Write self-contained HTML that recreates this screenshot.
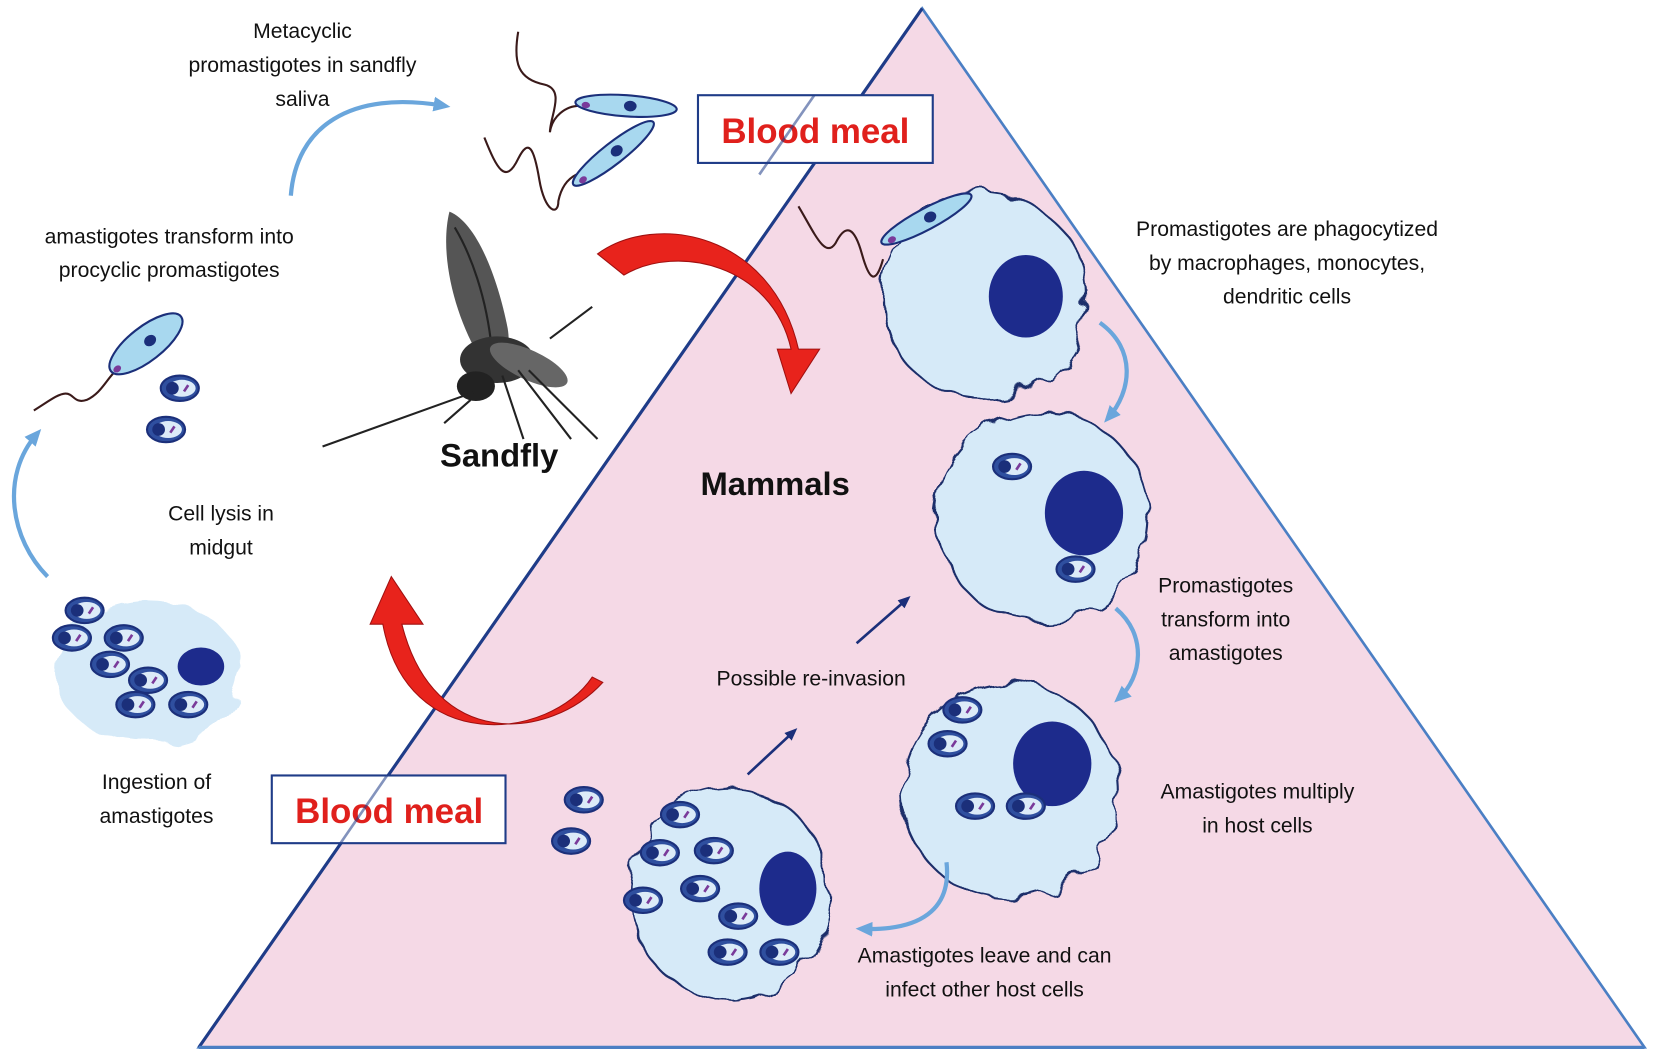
<!DOCTYPE html>
<html><head><meta charset="utf-8"><style>
html,body{margin:0;padding:0;background:#fff;}
svg{display:block}
text{font-family:"Liberation Sans",sans-serif;fill:#111;}
</style></head><body>
<svg width="1654" height="1059" viewBox="0 0 1564 1001" preserveAspectRatio="none" xmlns="http://www.w3.org/2000/svg">
<defs>
<filter id="wob" x="-20%" y="-20%" width="140%" height="140%">
<feTurbulence type="fractalNoise" baseFrequency="0.035" numOctaves="2" seed="3"/>
<feDisplacementMap in="SourceGraphic" scale="22"/>
</filter>
<g id="am">
<ellipse cx="0" cy="0" rx="18" ry="12" fill="#2f4f9f" stroke="#1b2f7a" stroke-width="2"/>
<ellipse cx="2" cy="0" rx="13" ry="8" fill="#dcebf8"/>
<ellipse cx="-7" cy="0" rx="6" ry="6" fill="#1b2f7a"/>
<line x1="4" y1="3" x2="8" y2="-3" stroke="#7a3a9a" stroke-width="2.5"/>
</g>
<g id="pro">
<ellipse cx="0" cy="0" rx="48" ry="10" fill="#a8d8ef" stroke="#1b2f7a" stroke-width="2"/>
<ellipse cx="4" cy="0" rx="6" ry="5" fill="#1b2f7a"/>
<ellipse cx="-38" cy="2" rx="4" ry="3" fill="#7a3a9a"/>
</g>
<marker id="ah" markerUnits="userSpaceOnUse" markerWidth="14" markerHeight="14" refX="8" refY="7" orient="auto"><path d="M0,2 L12,7 L0,12 z" fill="#1b2f7a"/></marker>
<marker id="lb" markerUnits="userSpaceOnUse" markerWidth="18" markerHeight="18" refX="10" refY="9" orient="auto"><path d="M0,2 L16,9 L0,16 z" fill="#6aa6dc"/></marker>
</defs>

<polygon points="872,8 188,990 1555,990" fill="#f5d9e6" stroke="#4b7fc4" stroke-width="2.5"/>
<line x1="872" y1="8" x2="188" y2="990" stroke="#1f3c88" stroke-width="3"/>
<line x1="188" y1="990" x2="1555" y2="990" stroke="#4b7fc4" stroke-width="3"/>

<rect x="660" y="90" width="222" height="64" fill="#fff" stroke="#1f3c88" stroke-width="2"/>
<text x="771" y="135" text-anchor="middle" font-size="33" font-weight="bold" style="fill:#e0201c">Blood meal</text>
<line x1="770" y1="90" x2="718" y2="165" stroke="#1f3c88" stroke-width="2.5" opacity=".55"/>
<rect x="257" y="733" width="221" height="64" fill="#fff" stroke="#1f3c88" stroke-width="2"/>
<text x="368" y="778" text-anchor="middle" font-size="33" font-weight="bold" style="fill:#e0201c">Blood meal</text>
<line x1="322" y1="797" x2="366" y2="733" stroke="#1f3c88" stroke-width="2.5" opacity=".55"/>

<g filter="url(#wob)">
<circle cx="930" cy="280" r="97" fill="#d6eaf8" stroke="#1b2f6a" stroke-width="2"/>
<circle cx="985" cy="488" r="100" fill="#d6eaf8" stroke="#1b2f6a" stroke-width="2"/>
<circle cx="955" cy="748" r="102" fill="#d6eaf8" stroke="#1b2f6a" stroke-width="2"/>
<ellipse cx="690" cy="845" rx="95" ry="100" fill="#d6eaf8" stroke="#1b2f6a" stroke-width="2"/>
<ellipse cx="140" cy="635" rx="88" ry="68" fill="#d6eaf8"/>
</g>
<ellipse cx="970" cy="280" rx="35" ry="39" fill="#1d2b8c"/>
<ellipse cx="1025" cy="485" rx="37" ry="40" fill="#1d2b8c"/>
<ellipse cx="995" cy="722" rx="37" ry="40" fill="#1d2b8c"/>
<ellipse cx="745" cy="840" rx="27" ry="35" fill="#1d2b8c"/>
<ellipse cx="190" cy="630" rx="22" ry="18" fill="#1d2b8c"/>

<use href="#am" x="957" y="441"/><use href="#am" x="1017" y="538"/>
<use href="#am" x="910" y="671"/><use href="#am" x="896" y="703"/><use href="#am" x="922" y="762"/><use href="#am" x="970" y="762"/>
<use href="#am" x="643" y="770"/><use href="#am" x="624" y="806"/><use href="#am" x="675" y="804"/><use href="#am" x="662" y="840"/><use href="#am" x="698" y="866"/><use href="#am" x="608" y="851"/><use href="#am" x="688" y="900"/><use href="#am" x="737" y="900"/>
<use href="#am" x="552" y="756"/><use href="#am" x="540" y="795"/>
<use href="#am" x="170" y="367"/><use href="#am" x="157" y="406"/>
<use href="#am" x="80" y="577"/><use href="#am" x="68" y="603"/><use href="#am" x="117" y="603"/><use href="#am" x="104" y="628"/><use href="#am" x="140" y="643"/><use href="#am" x="128" y="666"/><use href="#am" x="178" y="666"/>

<!-- promastigotes with flagella -->
<path d="M490,30 C485,60 490,75 515,80 C535,85 520,110 520,125 C522,110 535,100 548,100" fill="none" stroke="#3a1a1a" stroke-width="2"/>
<use href="#pro" x="592" y="100" transform="rotate(4 592 100)"/>
<path d="M458,130 C470,160 478,175 490,150 C500,130 505,140 510,170 C515,200 528,205 528,190 C530,180 535,170 545,165" fill="none" stroke="#3a1a1a" stroke-width="2"/>
<use href="#pro" x="580" y="145" transform="rotate(-38 580 145)"/>
<path d="M755,195 C770,220 780,245 790,230 C800,210 808,215 815,240 C822,265 828,270 835,245" fill="none" stroke="#3a1a1a" stroke-width="2"/>
<use href="#pro" x="876" y="207" transform="rotate(-28 876 207)"/>
<path d="M32,388 C45,380 55,372 62,372 C70,372 70,382 82,378 C95,372 100,360 108,352" fill="none" stroke="#3a1a1a" stroke-width="2"/>
<g transform="rotate(-38 138 325)">
<ellipse cx="138" cy="325" rx="42" ry="16" fill="#a8d8ef" stroke="#1b2f7a" stroke-width="2"/>
<ellipse cx="143" cy="325" rx="6" ry="5" fill="#1b2f7a"/>
<ellipse cx="102" cy="327" rx="4" ry="3" fill="#7a3a9a"/>
</g>

<!-- sandfly -->
<g>
<path d="M425,200 C450,210 470,260 480,310 C485,340 470,355 455,340 C430,300 415,240 425,200z" fill="#555"/>
<path d="M430,215 C445,240 460,280 465,330" stroke="#222" stroke-width="2" fill="none"/>
<ellipse cx="470" cy="340" rx="35" ry="22" fill="#333"/>
<ellipse cx="500" cy="345" rx="40" ry="14" fill="#666" transform="rotate(25 500 345)"/>
<ellipse cx="450" cy="365" rx="18" ry="14" fill="#222"/>
<path d="M450,370 L305,422 M475,355 L495,415 M490,350 L540,415 M500,350 L565,415 M520,320 L560,290 M445,378 L420,400" stroke="#222" stroke-width="2" fill="none"/>
</g>
<text x="472" y="441" text-anchor="middle" font-size="31" font-weight="bold">Sandfly</text>
<text x="733" y="468" text-anchor="middle" font-size="31" font-weight="bold">Mammals</text>

<!-- red arrows -->
<path d="M565,240 C620,200 730,220 755,330 L775,330 L748,372 L735,330 L748,330 C730,250 640,230 590,260 z" fill="#e8231c" stroke="#a01010" stroke-width="1"/>
<path d="M570,645 C520,700 410,710 380,590 L400,590 L370,545 L350,590 L362,590 C385,715 520,700 560,640 z" fill="#e8231c" stroke="#a01010" stroke-width="1"/>

<!-- blue curved arrows -->
<path d="M275,185 C280,120 330,85 420,100" fill="none" stroke="#6aa6dc" stroke-width="4" marker-end="url(#lb)"/>
<path d="M45,545 C10,510 0,450 35,410" fill="none" stroke="#6aa6dc" stroke-width="4" marker-end="url(#lb)"/>
<path d="M1040,305 C1075,330 1070,370 1048,395" fill="none" stroke="#6aa6dc" stroke-width="4" marker-end="url(#lb)"/>
<path d="M1055,575 C1085,600 1080,640 1058,660" fill="none" stroke="#6aa6dc" stroke-width="4" marker-end="url(#lb)"/>
<path d="M895,815 C900,860 870,880 815,878" fill="none" stroke="#6aa6dc" stroke-width="4" marker-end="url(#lb)"/>

<line x1="810" y1="608" x2="858" y2="566" stroke="#1b2f7a" stroke-width="2.5" marker-end="url(#ah)"/>
<line x1="707" y1="732" x2="751" y2="691" stroke="#1b2f7a" stroke-width="2.5" marker-end="url(#ah)"/>

<g font-size="20" text-anchor="middle">
<text x="286" y="36">Metacyclic</text>
<text x="286" y="68">promastigotes in sandfly</text>
<text x="286" y="100">saliva</text>
<text x="160" y="230">amastigotes transform into</text>
<text x="160" y="262">procyclic promastigotes</text>
<text x="209" y="492">Cell lysis in</text>
<text x="209" y="524">midgut</text>
<text x="148" y="746">Ingestion of</text>
<text x="148" y="778">amastigotes</text>
<text x="1217" y="223">Promastigotes are phagocytized</text>
<text x="1217" y="255">by macrophages, monocytes,</text>
<text x="1217" y="287">dendritic cells</text>
<text x="1159" y="560">Promastigotes</text>
<text x="1159" y="592">transform into</text>
<text x="1159" y="624">amastigotes</text>
<text x="767" y="648">Possible re-invasion</text>
<text x="1189" y="755">Amastigotes multiply</text>
<text x="1189" y="787">in host cells</text>
<text x="931" y="910">Amastigotes leave and can</text>
<text x="931" y="942">infect other host cells</text>
</g>
</svg>
</body></html>
